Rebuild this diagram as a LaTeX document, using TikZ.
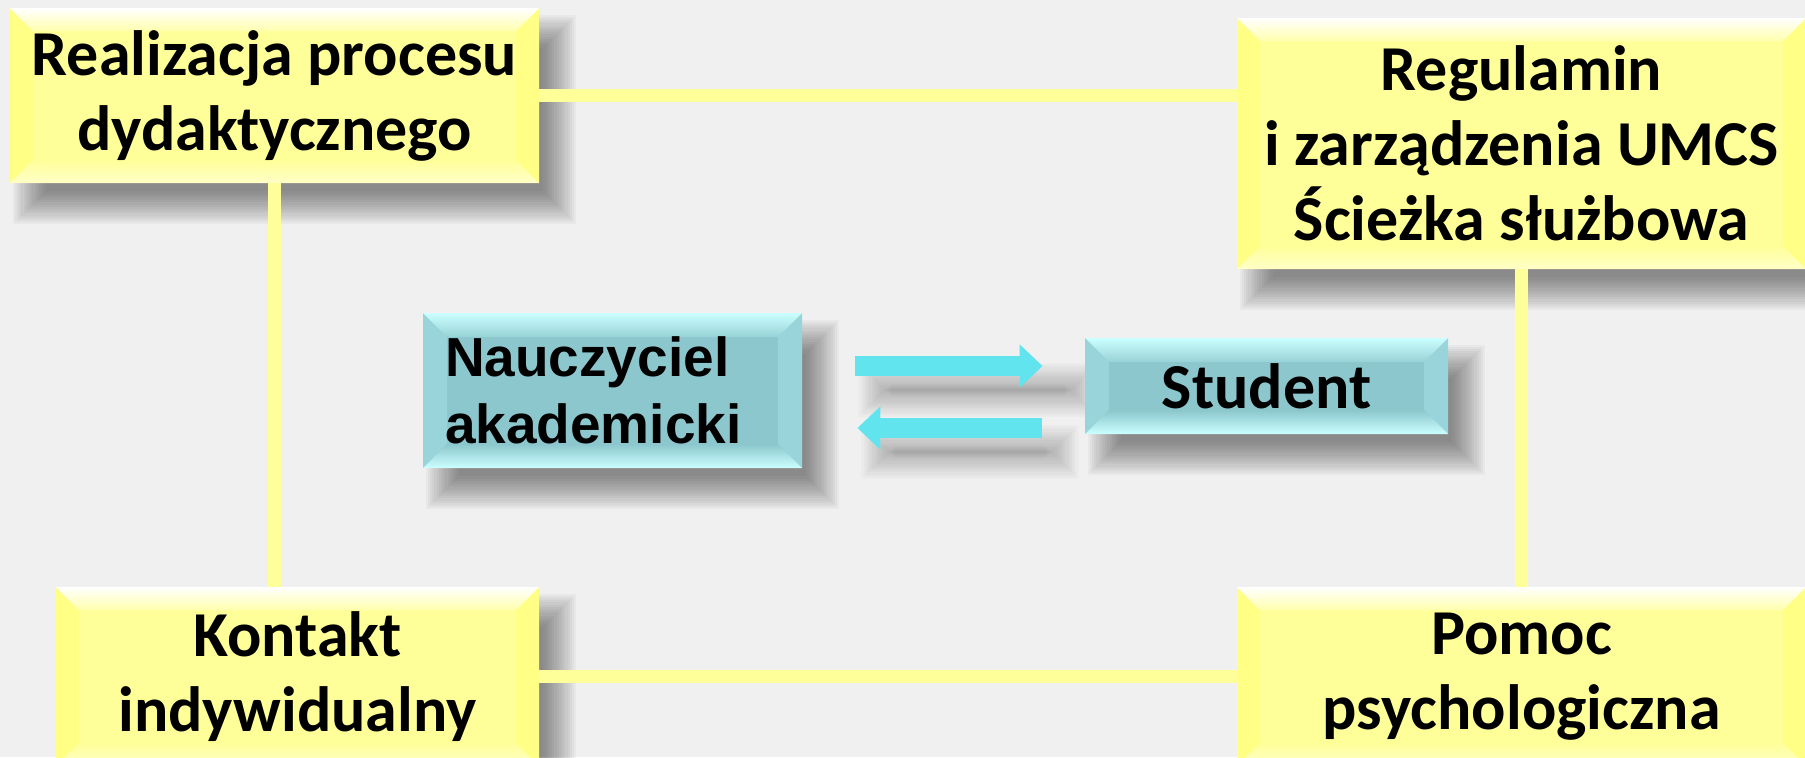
\documentclass[tikz,border=0pt]{standalone}
\usepackage{fontspec}
\setmainfont{Carlito}
\newfontfamily\arialfont{Liberation Sans}
\usepackage{tikz}
\usetikzlibrary{calc,arrows.meta}
\definecolor{bgcol}{HTML}{F0F0F0}
\definecolor{boxyellow}{HTML}{FFFF99}
\definecolor{sideyellow}{HTML}{FFFF86}
\definecolor{lowyellow}{HTML}{FFFFC8}
\definecolor{boxcyan}{HTML}{8BC7CD}
\definecolor{sidecyan}{HTML}{98D4DA}
\definecolor{topcyan}{HTML}{CCFFFF}
\definecolor{arrowcyan}{HTML}{62E4EE}
\pgfdeclarelayer{back}
\pgfdeclarelayer{shade}
\pgfsetlayers{back,shade,main}
% soft shadow: stacked rectangles, shifted down right
\newcommand{\softshadow}[3][0.03]{%
  \foreach \s in {0,...,15}
    \fill[black, opacity = #1] ($(#2)+(18pt-\s*1.1pt,-20pt+\s*1.1pt)$) rectangle ($(#3)+(2pt+\s*1.1pt,-4pt-\s*1.1pt)$);
}
\tikzset{
  bevel/.style n args={5}{path picture={
    \fill[#4] (path picture bounding box.north west) -- (path picture bounding box.south west)
      -- ++(#1,#1) -- ($(path picture bounding box.north west)+(#1,-#1)$) -- cycle;
    \fill[#4] (path picture bounding box.north east) -- (path picture bounding box.south east)
      -- ++(-#1,#1) -- ($(path picture bounding box.north east)+(-#1,-#1)$) -- cycle;
    \shade[top color=#3, bottom color=#2!80!#3] (path picture bounding box.north west) -- (path picture bounding box.north east)
      -- ++(-#1,-#1) -- ($(path picture bounding box.north west)+(#1,-#1)$) -- cycle;
    \shade[top color=#2, bottom color=#5] (path picture bounding box.south west) -- (path picture bounding box.south east)
      -- ++(-#1,#1) -- ($(path picture bounding box.south west)+(#1,#1)$) -- cycle;
  }}
}

\begin{document}
\begin{tikzpicture}[x = 0.5pt, y = 0.5pt,
  ybox/.style = {fill = boxyellow, inner sep = 0pt, align = center,
    font = \bfseries\fontsize{32}{37.5}\selectfont,
    bevel = {11.5pt}{boxyellow}{white}{sideyellow}{lowyellow}},
  cbox/.style = {fill = boxcyan, inner sep = 0pt,
    bevel = {12pt}{boxcyan}{topcyan}{sidecyan}{topcyan}},
  link/.style = {boxyellow, line width = 6.5pt},
  flow/.style = {arrowcyan, line width = 10pt, -{Triangle[length = 11.5pt, width = 21pt]}}]
\begin{pgfonlayer}{back}
\fill[bgcol] (0,0) rectangle (1805,-757);
\end{pgfonlayer}
\useasboundingbox (0,0) rectangle (1805,-757);
\node[ybox, minimum width = 264.5pt, minimum height = 87.5pt] (process) at (274.5,-95.5) {Realizacja procesu\\dydaktycznego};
\node[ybox, minimum width = 284.5pt, minimum height = 125.5pt] (rules) at (1521.5,-143.5) {Regulamin\\i zarządzenia UMCS\\Ścieżka służbowa};
\node[ybox, minimum width = 241.5pt, minimum height = 89.5pt] (contact) at (297.5,-676.5) {Kontakt\\indywidualny};
\node[ybox, minimum width = 284.5pt, minimum height = 89.5pt] (help) at (1521.5,-676.5) {Pomoc\\psychologiczna};
\node[cbox, minimum width = 189.5pt, minimum height = 77.5pt, text width = 167.5pt, inner xsep = 11pt, align = left,
  font = \arialfont\bfseries\fontsize{27.5}{33.5}\selectfont] (teacher) at (612.5,-390.5) {Nauczyciel\\akademicki};
\node[cbox, minimum width = 181.5pt, minimum height = 48pt, align = center,
  font = \bfseries\fontsize{32}{37.5}\selectfont] (student) at (1266.5,-386) {Student};
% frame of yellow links
\draw[link] (process.east) -- (process.east -| rules.west);
\draw[link] (process.south) -- (process.south |- contact.north);
\draw[link] (rules.south) -- (rules.south |- help.north);
\draw[link] (contact.east) -- (contact.east -| help.west);
% arrows between teacher and student
\coordinate (upper) at (0,-366);
\coordinate (lower) at (0,-428);
\draw[flow, shorten <= 26.5pt, shorten >= 21pt] (teacher.east |- upper) -- (student.west |- upper);
\draw[flow, shorten <= 21.5pt, shorten >= 27.5pt] (student.west |- lower) -- (teacher.east |- lower);
% shadows
\coordinate (ua) at ($(teacher.east |- upper)+(26.5pt,5pt)$);
\coordinate (ub) at ($(student.west |- upper)+(-12pt,-5pt)$);
\coordinate (la) at ($(teacher.east |- lower)+(28pt,5pt)$);
\coordinate (lb) at ($(student.west |- lower)+(-21.5pt,-5pt)$);
\begin{pgfonlayer}{shade}
\foreach \n in {process,rules,contact,help,teacher,student}
  {\softshadow{\n.north west}{\n.south east}}
\softshadow[0.02]{ua}{ub}
\softshadow[0.02]{la}{lb}
\end{pgfonlayer}
\end{tikzpicture}
\end{document}
